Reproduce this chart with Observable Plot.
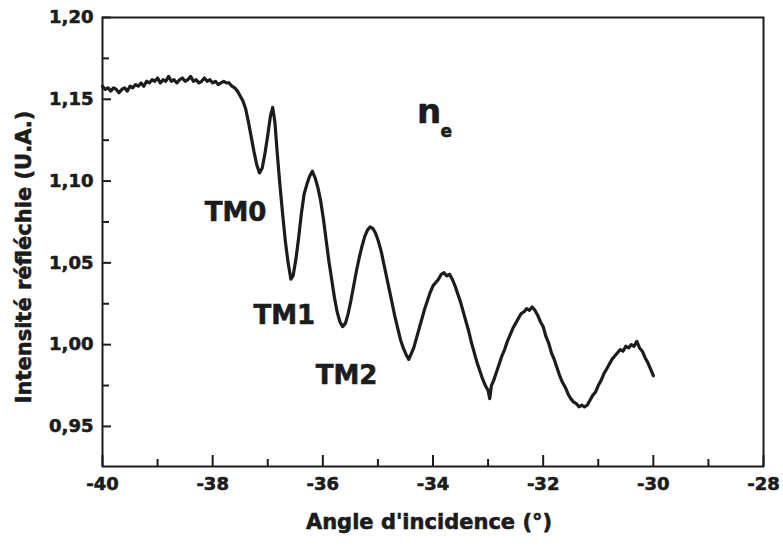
<!DOCTYPE html>
<html><head><meta charset="utf-8">
<script src="https://cdn.jsdelivr.net/npm/d3@7"></script>
<script src="https://cdn.jsdelivr.net/npm/@observablehq/plot@0.6"></script>
<style>body{margin:0;background:#fff} #chart svg text{stroke:#1c1c1c;stroke-width:0.6px;stroke-linejoin:round}</style>
</head><body><div id="chart"></div>
<script>
const angle = [-40.00,-39.95,-39.90,-39.85,-39.80,-39.75,-39.70,-39.65,-39.60,-39.55,-39.50,-39.45,-39.40,-39.35,-39.30,-39.25,-39.20,-39.15,-39.10,-39.05,-39.00,-38.95,-38.90,-38.85,-38.80,-38.75,-38.70,-38.65,-38.60,-38.55,-38.50,-38.45,-38.40,-38.35,-38.30,-38.25,-38.20,-38.15,-38.10,-38.05,-38.00,-37.95,-37.90,-37.85,-37.80,-37.75,-37.70,-37.65,-37.60,-37.55,-37.50,-37.45,-37.40,-37.35,-37.30,-37.25,-37.20,-37.15,-37.10,-37.05,-37.00,-36.95,-36.91,-36.87,-36.83,-36.78,-36.73,-36.68,-36.63,-36.58,-36.54,-36.49,-36.44,-36.39,-36.34,-36.29,-36.24,-36.19,-36.14,-36.09,-36.04,-35.99,-35.94,-35.89,-35.84,-35.79,-35.74,-35.69,-35.64,-35.59,-35.54,-35.49,-35.44,-35.39,-35.34,-35.29,-35.24,-35.19,-35.14,-35.09,-35.04,-34.99,-34.94,-34.89,-34.84,-34.79,-34.74,-34.69,-34.64,-34.59,-34.54,-34.49,-34.44,-34.40,-34.35,-34.30,-34.25,-34.20,-34.15,-34.10,-34.05,-34.00,-33.95,-33.90,-33.85,-33.80,-33.75,-33.70,-33.65,-33.60,-33.55,-33.50,-33.45,-33.40,-33.35,-33.30,-33.25,-33.20,-33.15,-33.10,-33.05,-33.00,-32.97,-32.94,-32.90,-32.85,-32.80,-32.75,-32.70,-32.65,-32.60,-32.55,-32.50,-32.45,-32.40,-32.35,-32.30,-32.25,-32.20,-32.15,-32.10,-32.05,-32.00,-31.95,-31.90,-31.85,-31.80,-31.75,-31.70,-31.65,-31.60,-31.55,-31.50,-31.45,-31.40,-31.35,-31.30,-31.25,-31.20,-31.15,-31.10,-31.05,-31.00,-30.95,-30.90,-30.85,-30.80,-30.75,-30.70,-30.65,-30.60,-30.55,-30.50,-30.45,-30.40,-30.35,-30.30,-30.25,-30.20,-30.15,-30.10,-30.05,-30.00];
const intensity = [1.158,1.156,1.157,1.155,1.157,1.156,1.154,1.156,1.157,1.155,1.158,1.157,1.159,1.158,1.160,1.158,1.161,1.160,1.162,1.161,1.163,1.160,1.162,1.161,1.164,1.161,1.162,1.160,1.162,1.163,1.161,1.162,1.164,1.161,1.162,1.160,1.161,1.163,1.161,1.162,1.160,1.161,1.159,1.160,1.161,1.160,1.160,1.158,1.157,1.155,1.152,1.149,1.144,1.136,1.127,1.118,1.110,1.105,1.108,1.117,1.128,1.140,1.145,1.136,1.118,1.098,1.080,1.063,1.050,1.040,1.042,1.052,1.065,1.080,1.092,1.098,1.103,1.106,1.102,1.096,1.088,1.077,1.064,1.051,1.040,1.029,1.020,1.014,1.011,1.013,1.019,1.027,1.036,1.045,1.053,1.060,1.066,1.070,1.072,1.071,1.068,1.063,1.057,1.049,1.041,1.033,1.025,1.017,1.010,1.003,0.998,0.994,0.991,0.994,0.998,1.004,1.010,1.016,1.022,1.027,1.032,1.036,1.038,1.040,1.043,1.044,1.042,1.043,1.040,1.036,1.031,1.026,1.020,1.014,1.008,1.001,0.995,0.989,0.984,0.979,0.975,0.972,0.967,0.975,0.978,0.983,0.988,0.993,0.997,1.002,1.006,1.010,1.013,1.016,1.019,1.020,1.022,1.021,1.023,1.021,1.018,1.014,1.011,1.005,1.001,0.995,0.991,0.986,0.981,0.977,0.974,0.970,0.967,0.965,0.964,0.962,0.963,0.962,0.963,0.966,0.969,0.971,0.975,0.978,0.982,0.985,0.988,0.991,0.993,0.995,0.997,0.996,0.999,0.998,1.000,0.999,1.002,0.998,0.996,0.992,0.989,0.985,0.981];

const xMajor = [-40,-38,-36,-34,-32,-30,-28];
const xMinor = [-39,-37,-35,-33,-31,-29];
const yMajor = [0.95,1.00,1.05,1.10,1.15,1.20];
const yMinor = [0.975,1.025,1.075,1.125,1.175];

const xTitle = "Angle d'incidence (°)";
const yTitle = "Intensité réfléchie (U.A.)";

const modeNames = ["TM0","TM1","TM2"];
const modeX = [-37.585,-36.70,-35.57];
const modeY = [1.0805,1.0179,0.9811];

const indexName = "n";
const indexSub = "e";
const indexX = -34.07;
const indexY = 1.142;
const subX = -33.76;
const subY = 1.1303;

const data = angle.map((a,i)=>({a, v: intensity[i]}));
const modes = modeNames.map((n,i)=>({n, x: modeX[i], y: modeY[i]}));
const fmtY = d => d3.format(".2f")(d).replace(".", ",");
const fmtX = d => String(d);
const ink = "#1c1c1c";
const font = "'DejaVu Sans', 'Liberation Sans', sans-serif";

const W = 783, H = 546, mL = 102, mR = 20, mT = 17, mB = 80;
const fw = W - mL - mR, fh = H - mT - mB;

const chart = Plot.plot({
  width: W, height: H,
  marginLeft: mL, marginRight: mR, marginTop: mT, marginBottom: mB,
  style: {fontFamily: font, background: "#fff", color: ink},
  x: {domain: [-40,-28]},
  y: {domain: [0.9255, 1.20]},
  marks: [
    Plot.tickX(xMajor, {x: d => d, insetTop: fh - 11, stroke: ink, strokeWidth: 2}),
    Plot.tickX(xMinor, {x: d => d, insetTop: fh - 7, stroke: ink, strokeWidth: 2}),
    Plot.tickY(yMajor, {y: d => d, insetRight: fw - 9, stroke: ink, strokeWidth: 2}),
    Plot.tickY(yMinor, {y: d => d, insetRight: fw - 7, stroke: ink, strokeWidth: 2}),
    Plot.frame({stroke: ink, strokeWidth: 2}),
    Plot.axisX(xMajor, {tickSize: 0, tickPadding: 11, tickFormat: fmtX, fontSize: 18, fontWeight: "bold", label: null}),
    Plot.axisY(yMajor, {tickSize: 0, tickPadding: 9, tickFormat: fmtY, fontSize: 18, fontWeight: "bold", label: null}),
    Plot.text([xTitle], {frameAnchor: "bottom", text: d => d, dx: -4, dy: 56, fontSize: 21, fontWeight: "bold", fill: ink, textAnchor: "middle", lineAnchor: "middle"}),
    Plot.text([yTitle], {frameAnchor: "left", text: d => d, dx: -78, dy: 15, rotate: -90, fontSize: 21, fontWeight: "bold", fill: ink, textAnchor: "middle", lineAnchor: "middle"}),
    Plot.line(data, {x: "a", y: "v", stroke: ink, strokeWidth: 3.2, curve: "linear", strokeLinejoin: "round"}),
    Plot.text(modes, {x: "x", y: "y", text: "n", fontSize: 26, fontWeight: "bold", fill: ink}),
    Plot.text([indexName], {x: [indexX], y: [indexY], text: d => d, fontSize: 34, fontWeight: "bold", fill: ink}),
    Plot.text([indexSub], {x: [subX], y: [subY], text: d => d, fontSize: 17, fontWeight: "bold", fill: ink})
  ]
});
document.getElementById("chart").append(chart);
</script>
</body></html>
